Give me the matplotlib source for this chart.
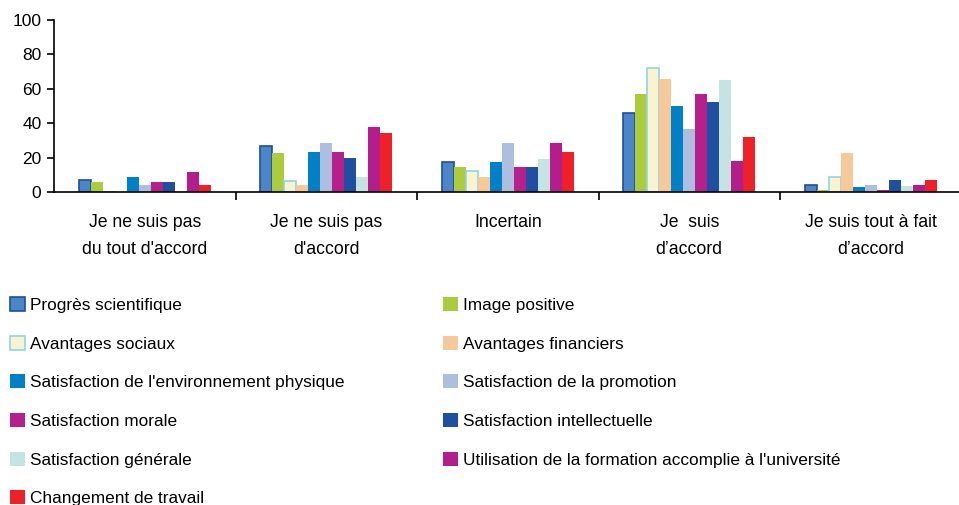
import matplotlib.pyplot as plt
import numpy as np

plt.rcParams['font.family'] = ['Liberation Sans', 'DejaVu Sans']

categories = ["Je ne suis pas\ndu tout d'accord", "Je ne suis pas\nd'accord", "Incertain",
              "Je  suis\nd\u2019accord", "Je suis tout \u00e0 fait\nd\u2019accord"]
series = ["Progr\u00e8s scientifique", "Image positive", "Avantages sociaux",
          "Avantages financiers", "Satisfaction de l'environnement physique",
          "Satisfaction de la promotion", "Satisfaction morale",
          "Satisfaction intellectuelle", "Satisfaction g\u00e9n\u00e9rale",
          "Utilisation de la formation accomplie \u00e0 l'universit\u00e9",
          "Changement de travail"]
# values per series, one per category
progres = [7, 26.7, 17.2, 46, 4.1]
image = [6, 22.6, 14.4, 57.1, 1]
sociaux = [0, 6.6, 12.3, 72.1, 8.6]
financiers = [0, 3.9, 8.6, 65.9, 22.6]
env_physique = [8.8, 23, 17.2, 50, 3.1]
promotion = [4.3, 28.5, 28.5, 36.8, 4.3]
morale = [5.8, 23, 14.4, 57.1, 1.4]
intellectuelle = [5.8, 19.7, 14.4, 52.4, 6.8]
generale = [0.5, 8.8, 19.1, 64.9, 3.3]
utilisation = [11.5, 37.8, 28.5, 18, 4]
changement = [4.3, 34.1, 23, 32.2, 6.8]
values = [progres, image, sociaux, financiers, env_physique, promotion,
          morale, intellectuelle, generale, utilisation, changement]

fills = ['#4A86C8', '#ADCC3C', '#F8F3D0', '#F6C99A', '#0080C6', '#AEBEDF',
         '#B5208A', '#1F4FA0', '#C4E3E1', '#B21E8C', '#EE2028']
edges = ['#1F4E9A', '#ADCC3C', '#8FD3E8', '#F6C99A', '#0080C6', '#AEBEDF',
         '#B5208A', '#1F4FA0', '#C4E3E1', '#B21E8C', '#EE2028']
lws = [1.2, 0, 1.2, 0, 0, 0, 0, 0, 0, 0, 0]

fig = plt.figure(figsize=(9.59, 5.05), dpi=100)
ax = fig.add_axes([54 / 959, 1 - 192 / 505, 907.5 / 959, 172 / 505])

x = np.arange(len(categories)) + 0.5
w = 0.066
handles = []
for i, (vals, fc, ec, lw) in enumerate(zip(values, fills, edges, lws)):
    b = ax.bar(x + (i - 5) * w, vals, w, color=fc, edgecolor=ec, linewidth=lw,
               label=series[i])
    handles.append(b)

ax.set_xlim(0, 5)
ax.set_ylim(0, 100)
ax.set_yticks([0, 20, 40, 60, 80, 100])
ax.tick_params(axis='y', labelsize=12.5, length=5, width=1.2, direction='out', pad=4)
ax.set_xticks(x)
ax.set_xticklabels(categories, fontsize=12.7, linespacing=1.75, va='top')
ax.tick_params(axis='x', which='major', length=0, pad=16)
ax.set_xticks(np.arange(1, 5), minor=True)
ax.tick_params(axis='x', which='minor', length=6, width=1.2, direction='out')
for s in ['top', 'right']:
    ax.spines[s].set_visible(False)
ax.spines['left'].set_linewidth(1.2)
ax.spines['bottom'].set_linewidth(1.2)

# legend: row-wise order in two columns
order = [0, 2, 4, 6, 8, 10, 1, 3, 5, 7, 9]
leg = fig.legend([handles[k] for k in order], [series[k] for k in order],
                 ncol=2, loc='upper left', bbox_to_anchor=(10 / 959, 1 - 297 / 505),
                 frameon=False, fontsize=12.4, handlelength=0.87, handleheight=0.87,
                 handletextpad=0.29, labelspacing=1.32, columnspacing=5.7,
                 borderaxespad=0, borderpad=0)

fig.savefig('out.png', dpi=100)
